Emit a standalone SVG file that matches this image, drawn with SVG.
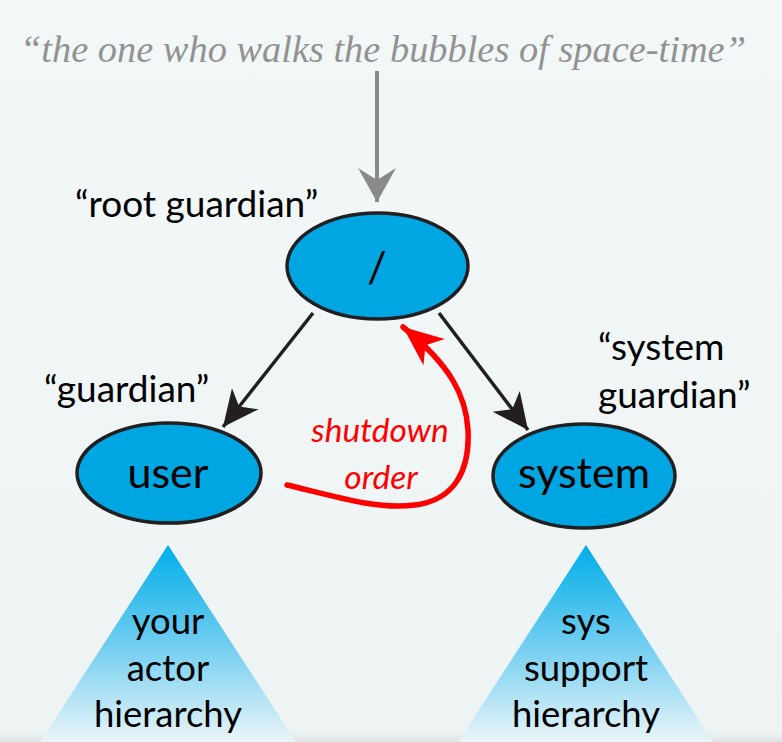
<svg xmlns="http://www.w3.org/2000/svg" width="782" height="742" viewBox="0 0 782 742">
<defs>
<linearGradient id="bg" x1="0" y1="0" x2="0" y2="1">
<stop offset="0" stop-color="#f2f7f7"/>
<stop offset="0.985" stop-color="#eef4f4"/>
<stop offset="1" stop-color="#dfe3e3"/>
</linearGradient>
<linearGradient id="tri" x1="0" y1="0" x2="0" y2="1">
<stop offset="0" stop-color="#00aee8"/>
<stop offset="0.5" stop-color="#6fcdf0"/>
<stop offset="1" stop-color="#eaf5f8"/>
</linearGradient>
<marker id="ab" markerUnits="userSpaceOnUse" viewBox="-40 -20 44 40" refX="0" refY="0" markerWidth="44" markerHeight="40" orient="auto">
<path d="M0,0 L-36,-17 L-26,0 L-36,17 z" fill="#231f20"/>
</marker>
<marker id="ag" markerUnits="userSpaceOnUse" viewBox="-40 -22 44 44" refX="0" refY="0" markerWidth="44" markerHeight="44" orient="auto">
<path d="M0,0 L-34,-19 L-22,0 L-34,19 z" fill="#8a8a8a"/>
</marker>
<marker id="ar" markerUnits="userSpaceOnUse" viewBox="-44 -22 48 44" refX="0" refY="0" markerWidth="48" markerHeight="44" orient="auto">
<path d="M0,0 L-40,-17 L-29,0 L-40,17 z" fill="#ff0000"/>
</marker>
<style>
.node{fill:#00a6e2;stroke:#231f20;stroke-width:3.5}
.lbl{font-family:Lato,"Open Sans","DejaVu Sans",sans-serif;font-size:37px;fill:#000}
.ntx{font-family:Lato,"Open Sans","DejaVu Sans",sans-serif;font-size:43px;fill:#000;text-anchor:middle}
.ttx{font-family:Lato,"Open Sans","DejaVu Sans",sans-serif;font-size:36.5px;fill:#000;text-anchor:middle}
.red{font-family:Lato,"Open Sans","DejaVu Sans",sans-serif;font-size:33.5px;fill:#ff0000;font-style:italic;text-anchor:middle}
</style>
</defs>
<rect width="782" height="742" fill="url(#bg)"/>
<text x="20" y="62" font-family="'Liberation Serif',serif" font-style="italic" font-size="38" fill="#929292" textLength="726" lengthAdjust="spacingAndGlyphs">“the one who walks the bubbles of space-time”</text>

<g id="connectors">
<line x1="377" y1="71" x2="377" y2="202" stroke="#8a8a8a" stroke-width="4" marker-end="url(#ag)"/>
<line x1="313" y1="313" x2="223" y2="427" stroke="#231f20" stroke-width="3.5" marker-end="url(#ab)"/>
<line x1="439" y1="313" x2="528" y2="430" stroke="#231f20" stroke-width="3.5" marker-end="url(#ab)"/>
<path d="M287,485 C330,495 375,510 415,505 C455,500 470,470 468,430 C466,395 450,365 403,327" fill="none" stroke="#ff0000" stroke-width="5.5" stroke-linecap="round" marker-end="url(#ar)"/>
<text class="red" x="380" y="442">shutdown</text>
<text class="red" x="381" y="489">order</text>
</g>

<g id="root">
<ellipse class="node" cx="377.5" cy="266" rx="90.5" ry="53"/>
<text class="ntx" x="377" y="282">/</text>
<text class="lbl" x="75" y="217">“root guardian”</text>
</g>
<g id="user">
<ellipse class="node" cx="169" cy="473" rx="92" ry="50"/>
<text class="ntx" x="168" y="488">user</text>
<text class="lbl" x="44" y="402">“guardian”</text>
</g>
<g id="system">
<ellipse class="node" cx="584" cy="476" rx="91" ry="52"/>
<text class="ntx" x="584" y="488">system</text>
<text class="lbl" x="598" y="360">“system</text>
<text class="lbl" x="598" y="408">guardian”</text>
</g>
<g id="user-hierarchy">
<polygon points="168,545 296,742 40,742" fill="url(#tri)"/>
<text class="ttx" x="168" y="634">your</text>
<text class="ttx" x="168" y="681">actor</text>
<text class="ttx" x="168" y="727">hierarchy</text>
</g>
<g id="sys-hierarchy">
<polygon points="586,545 713,742 458,742" fill="url(#tri)"/>
<text class="ttx" x="586" y="634">sys</text>
<text class="ttx" x="586" y="681">support</text>
<text class="ttx" x="586" y="727">hierarchy</text>
</g>
</svg>
